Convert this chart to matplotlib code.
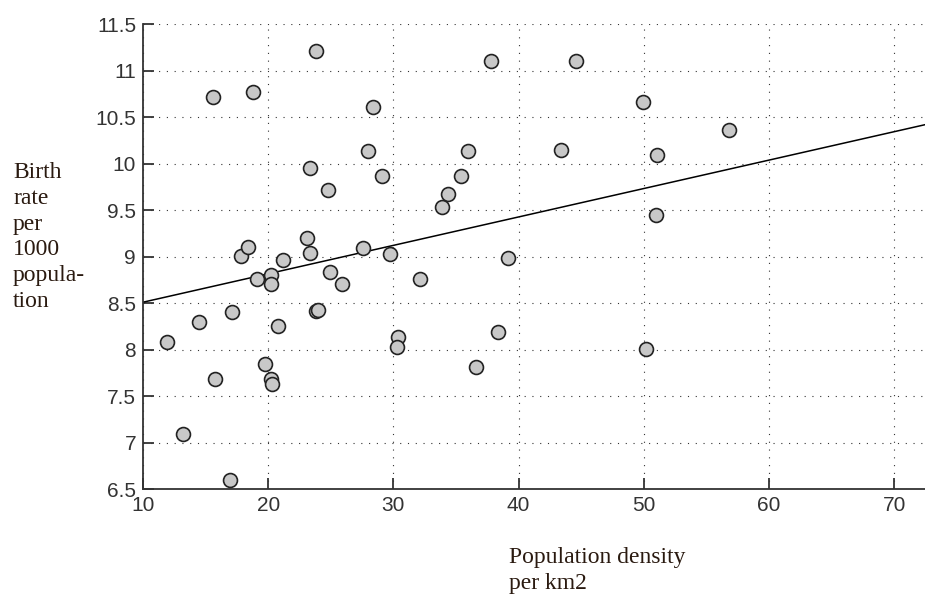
import numpy as np
import matplotlib
matplotlib.use("Agg")
import matplotlib.pyplot as plt

# population density per km2
density = [11.9, 14.47, 17.08, 15.75, 13.22, 16.95, 19.74, 20.2, 20.33, 20.81,
           23.82, 24.0, 15.62, 18.81, 23.82, 23.34, 17.8, 18.41, 19.08, 20.2,
           20.2, 21.2, 23.07, 23.34, 37.8, 44.58, 28.4, 28.0, 35.93, 43.39,
           29.06, 35.4, 24.8, 34.34, 33.86, 27.6, 29.73, 39.13, 24.94, 25.87,
           32.12, 49.91, 56.8, 51.08, 50.97, 30.34, 30.26, 38.33, 36.6, 50.15]
# birth rate per 1000 population
birth = [8.08, 8.30, 8.41, 7.68, 7.09, 6.60, 7.85, 7.68, 7.63, 8.25,
         8.42, 8.43, 10.72, 10.77, 11.21, 9.95, 9.01, 9.10, 8.76, 8.80,
         8.71, 8.96, 9.20, 9.04, 11.11, 11.11, 10.61, 10.14, 10.14, 10.15,
         9.87, 9.87, 9.72, 9.67, 9.53, 9.09, 9.03, 8.99, 8.83, 8.71,
         8.76, 10.66, 10.36, 10.09, 9.45, 8.14, 8.03, 8.19, 7.81, 8.01]

# fitted line
fit_x = [10, 72.46]
fit_y = [8.51, 10.42]

xticks = [10, 20, 30, 40, 50, 60, 70]
yticks = [6.5, 7, 7.5, 8, 8.5, 9, 9.5, 10, 10.5, 11, 11.5]

fig = plt.figure(figsize=(9.25, 5.96), dpi=100)
ax = fig.add_axes([0.1546, 0.1795, 0.8454, 0.7797])

ax.plot(fit_x, fit_y, color="black", lw=1.1, zorder=2)
ax.plot(density, birth, "o", ms=10, mfc="#c8c8c8", mec="#222222", mew=1.2,
        zorder=3, clip_on=False)

ax.set_xlim(10, 72.46)
ax.set_ylim(6.5, 11.5)
ax.set_xticks(xticks)
ax.set_yticks(yticks)
ax.set_yticklabels([f"{v:g}" for v in yticks])

ax.grid(True, color="#333333", linestyle=(0, (1, 6)), lw=0.8)
ax.set_axisbelow(True)
for s in ["top", "right"]:
    ax.spines[s].set_visible(False)
for s in ["left", "bottom"]:
    ax.spines[s].set_color("#333333")
    ax.spines[s].set_linewidth(1.3)

ax.tick_params(direction="in", length=8, width=1.3, color="#333333",
               labelsize=15, labelcolor="#333333", pad=5)
for lab in ax.get_xticklabels() + ax.get_yticklabels():
    lab.set_family("Liberation Sans")

fig.text(13 / 925, 1 - 162 / 596, "Birth\nrate\nper\n1000\npopula-\ntion",
         family="Liberation Serif", fontsize=17, color="#2a1a10",
         va="top", ha="left", linespacing=1.3)
fig.text(509 / 925, 1 - 547 / 596, "Population density\nper km2",
         family="Liberation Serif", fontsize=17, color="#2a1a10",
         va="top", ha="left", linespacing=1.3)

fig.savefig("out.png", dpi=100)
